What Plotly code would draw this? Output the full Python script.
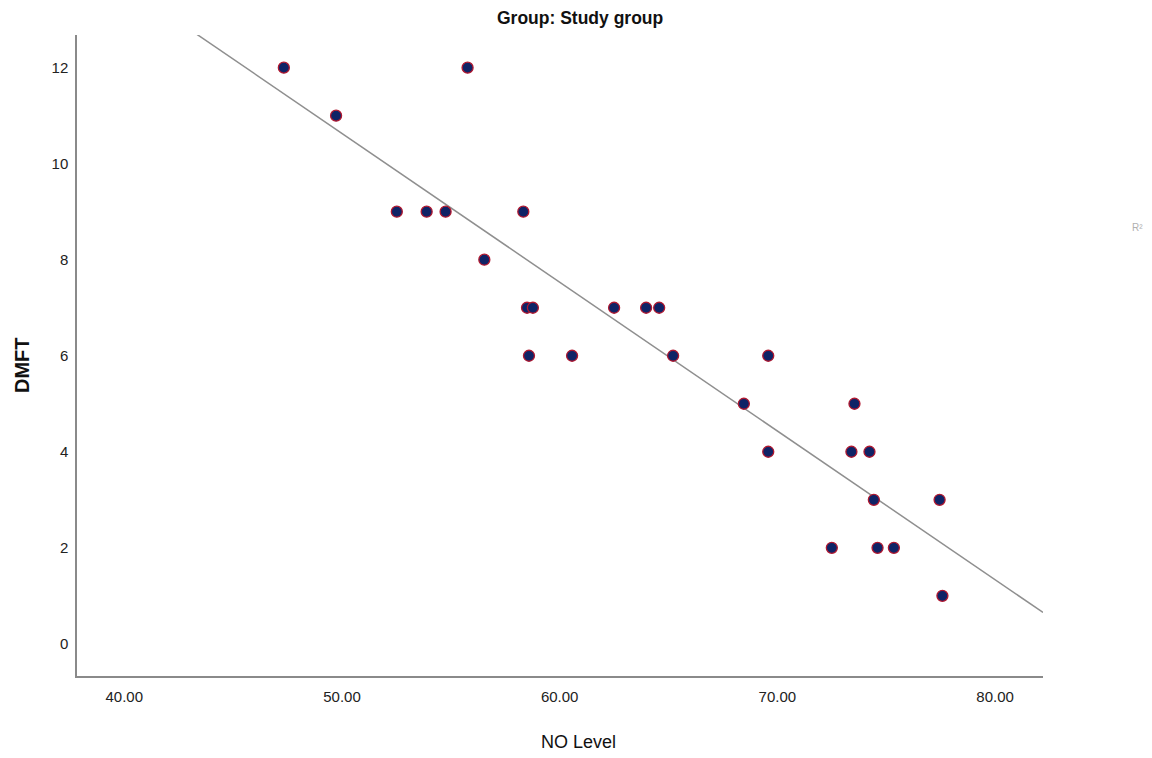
import numpy as np
import plotly.graph_objects as go

# Data
no_level = [47.33, 49.73, 55.77, 52.52, 53.89, 54.76, 58.33, 56.54,
            58.50, 58.77, 62.50, 63.97, 64.57, 58.59, 60.57, 65.21,
            69.58, 68.46, 73.54, 69.58, 73.40, 74.23, 74.43, 77.45,
            72.50, 74.60, 75.35, 77.58]
dmft = [12, 11, 12, 9, 9, 9, 9, 8,
        7, 7, 7, 7, 7, 6, 6, 6,
        6, 5, 5, 4, 4, 4, 3, 3,
        2, 2, 2, 1]
x_ticks = [40, 50, 60, 70, 80]
x_tick_labels = ["40.00", "50.00", "60.00", "70.00", "80.00"]
y_ticks = [0, 2, 4, 6, 8, 10, 12]

x_range = [37.83, 82.20]
y_range = [-0.67, 12.68]

slope, intercept = np.polyfit(no_level, dmft, 1)
fit_x = np.array(x_range)
fit_y = intercept + slope * fit_x

FONT = "Liberation Sans, Arial, sans-serif"

# plot area in page pixels (page has 8px body margin)
PX0, PX1, PY0, PY1 = 77, 1043, 35, 676


def px_x(px):
    return (px - PX0) / (PX1 - PX0)


def px_y(py):
    return (PY1 - py) / (PY1 - PY0)


fig = go.Figure()
fig.add_trace(go.Scatter(
    x=fit_x, y=fit_y, mode="lines",
    line=dict(color="#8f8f8f", width=1.5),
    hoverinfo="skip", showlegend=False,
))
fig.add_trace(go.Scatter(
    x=no_level, y=dmft, mode="markers",
    marker=dict(size=11, color="#0f2366",
                line=dict(color="#b01830", width=1.3)),
    showlegend=False, cliponaxis=False,
))

fig.update_layout(
    width=1152, height=758,
    margin=dict(l=69, r=117, t=27, b=90),
    paper_bgcolor="white", plot_bgcolor="white",
    font=dict(family=FONT, color="#222"),
    annotations=[
        dict(text="<b>Group: Study group</b>", xref="paper", yref="paper",
             x=px_x(580), y=px_y(18), showarrow=False,
             xanchor="center", yanchor="middle",
             font=dict(size=17.5, family=FONT, color="#111")),
        dict(text="R²", xref="paper", yref="paper",
             x=px_x(1137), y=px_y(228),
             showarrow=False, xanchor="center", yanchor="middle",
             font=dict(size=10, family=FONT, color="#b0b0b0")),
        dict(text="NO Level", xref="paper", yref="paper",
             x=px_x(578), y=px_y(742), showarrow=False,
             xanchor="center", yanchor="middle",
             font=dict(size=18, family=FONT, color="#111")),
        dict(text="<b>DMFT</b>", xref="paper", yref="paper",
             x=px_x(22), y=px_y(365), showarrow=False, textangle=-90,
             xanchor="center", yanchor="middle",
             font=dict(size=20, family=FONT, color="#111")),
    ],
)
fig.update_xaxes(
    range=x_range, tickvals=x_ticks, ticktext=x_tick_labels,
    showgrid=False, zeroline=False, showline=True,
    linecolor="#8a8a8a", linewidth=1.5, ticks="",
    tickfont=dict(size=15, family=FONT, color="#222"),
    ticklabelstandoff=6,
)
fig.update_yaxes(
    range=y_range, tickvals=y_ticks,
    showgrid=False, zeroline=False, showline=True,
    linecolor="#8a8a8a", linewidth=1.5, ticks="",
    tickfont=dict(size=15, family=FONT, color="#222"),
    ticklabelstandoff=4,
)

fig.write_html("out.html")
